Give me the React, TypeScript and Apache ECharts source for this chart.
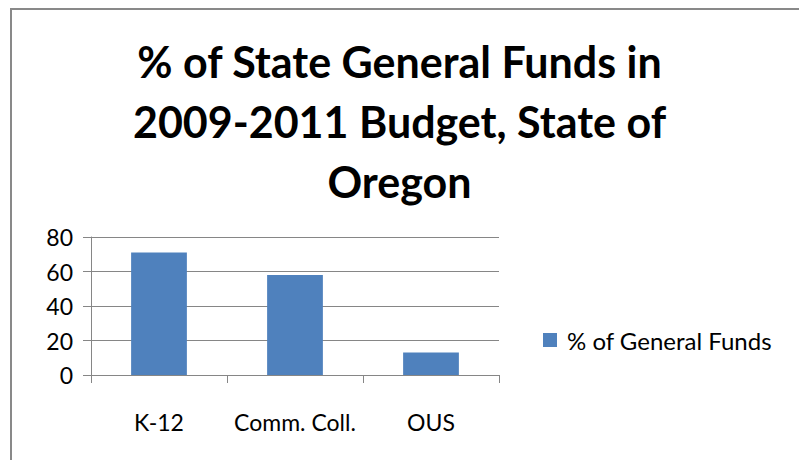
import React, { useEffect, useRef } from "react";
import * as echarts from "echarts";

const categories = ["K-12", "Comm. Coll.", "OUS"];
const seriesName = "% of General Funds";
const values = [71, 58, 13];
const yTicks = { min: 0, max: 80, interval: 20 };
const titleLines = ["% of State General Funds in", "2009-2011 Budget, State of", "Oregon"];

const FONT = "Lato";
const GRID = "#868686";

export default function App() {
  const ref = useRef<HTMLDivElement>(null);
  useEffect(() => {
    if (!ref.current) return;
    const chart = echarts.init(ref.current, undefined, { renderer: "svg" });
    chart.setOption({
      animation: false,
      backgroundColor: "#ffffff",
      title: {
        text: titleLines.join("\n"),
        left: "center",
        top: 26,
        textStyle: {
          fontFamily: FONT,
          fontWeight: "bold",
          fontSize: 43,
          lineHeight: 60,
          color: "#000000",
        },
      },
      graphic: [
        {
          type: "rect",
          shape: { x: 11, y: 9, width: 900, height: 600 },
          style: { fill: "none", stroke: "#898989", lineWidth: 2 },
          silent: true,
        },
      ],
      legend: {
        left: 538,
        top: 323,
        icon: "rect",
        itemWidth: 14,
        itemHeight: 14,
        textStyle: { fontFamily: FONT, fontSize: 24, color: "#000000", padding: [0, 0, 0, 5] },
        data: [seriesName],
      },
      grid: { left: 91, right: 300, top: 237, bottom: 85, containLabel: false },
      xAxis: {
        type: "category",
        data: categories,
        boundaryGap: true,
        axisLine: { show: true, lineStyle: { color: GRID, width: 1 } },
        axisTick: { show: true, length: 8, alignWithLabel: false, lineStyle: { color: GRID } },
        axisLabel: { fontFamily: FONT, fontSize: 23, color: "#000000", margin: 35, interval: 0 },
        splitLine: { show: false },
      },
      yAxis: {
        type: "value",
        min: yTicks.min,
        max: yTicks.max,
        interval: yTicks.interval,
        axisLine: { show: true, lineStyle: { color: GRID, width: 1 } },
        axisTick: { show: true, length: 8, lineStyle: { color: GRID } },
        axisLabel: { fontFamily: FONT, fontSize: 23, color: "#000000", margin: 18 },
        splitLine: { show: true, lineStyle: { color: GRID, width: 1 } },
      },
      series: [
        {
          name: seriesName,
          type: "bar",
          data: values,
          barWidth: "41%",
          itemStyle: { color: "#4F81BD" },
        },
      ],
    });
    return () => chart.dispose();
  }, []);
  return (
    <div
      ref={ref}
      style={{ position: "fixed", left: 0, top: 0, width: 799, height: 460 }}
    />
  );
}
